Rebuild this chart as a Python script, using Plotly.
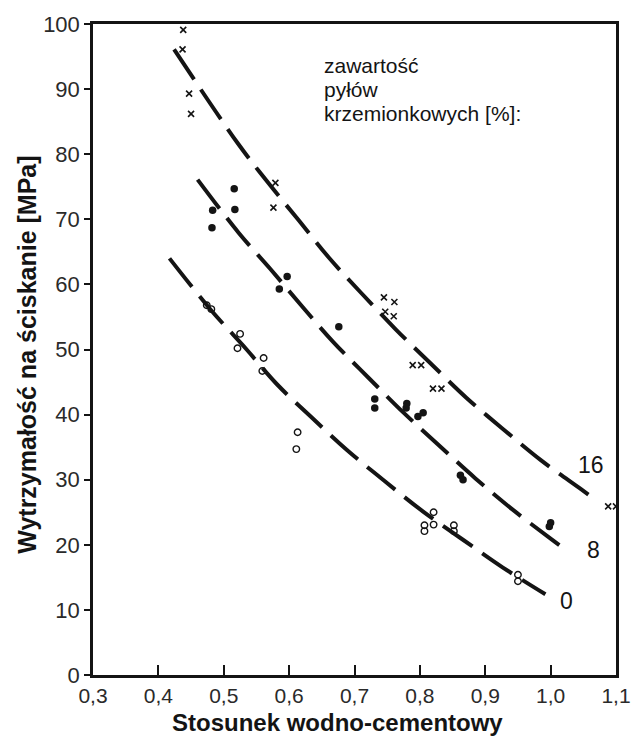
import plotly.graph_objects as go

# ---- data ----
x_ticks = [0.3, 0.4, 0.5, 0.6, 0.7, 0.8, 0.9, 1.0, 1.1]
x_tick_labels = ["0,3", "0,4", "0,5", "0,6", "0,7", "0,8", "0,9", "1,0", "1,1"]
y_ticks = [0, 10, 20, 30, 40, 50, 60, 70, 80, 90, 100]

# 16 % silica fume (x markers)
x16 = [0.438, 0.437, 0.447, 0.450, 0.579, 0.576, 0.745, 0.761, 0.747, 0.760,
       0.789, 0.802, 0.820, 0.833, 1.088, 1.100]
y16 = [99.1, 96.1, 89.3, 86.2, 75.6, 71.8, 58.0, 57.3, 55.8, 55.1,
       47.6, 47.6, 44.0, 44.0, 25.9, 25.9]

# 8 % silica fume (filled dots)
x8 = [0.483, 0.482, 0.516, 0.517, 0.585, 0.597, 0.676, 0.731, 0.731, 0.779,
      0.780, 0.797, 0.805, 0.862, 0.866, 0.998, 1.000]
y8 = [71.4, 68.7, 74.7, 71.5, 59.3, 61.2, 53.5, 42.4, 41.0, 41.0,
      41.7, 39.7, 40.3, 30.7, 30.0, 22.8, 23.4]

# 0 % silica fume (open circles)
x0 = [0.474, 0.481, 0.525, 0.521, 0.561, 0.559, 0.613, 0.611, 0.807, 0.807,
      0.821, 0.821, 0.852, 0.852, 0.950, 0.950]
y0 = [56.8, 56.2, 52.4, 50.2, 48.7, 46.7, 37.3, 34.7, 23.0, 22.1,
      25.0, 23.1, 23.0, 22.1, 15.4, 14.4]

# dashed trend curves
c16x = [0.424, 0.522, 0.568, 0.615, 0.661, 0.711, 0.763, 0.815, 0.871, 0.927, 0.985, 1.047, 1.070]
c16y = [96.1, 81.6, 75.6, 69.8, 64.1, 58.6, 53.1, 48.0, 42.6, 37.8, 33.0, 28.5, 26.8]
c8x = [0.460, 0.523, 0.571, 0.620, 0.668, 0.721, 0.775, 0.829, 0.885, 0.942, 1.002, 1.025]
c8y = [76.1, 67.9, 62.4, 56.6, 51.1, 45.7, 40.3, 35.3, 30.2, 25.4, 20.8, 19.1]
c0x = [0.417, 0.481, 0.535, 0.581, 0.633, 0.688, 0.746, 0.805, 0.867, 0.927, 0.992]
c0y = [64.0, 56.0, 50.0, 44.7, 39.7, 34.6, 29.8, 25.1, 20.7, 16.5, 12.4]

curve_labels = ["16", "8", "0"]
curve_label_x = [1.062, 1.065, 1.024]
curve_label_y = [32.2, 19.2, 11.4]

legend_lines = ["zawartość", "pyłów", "krzemionkowych [%]:"]
legend_x = 0.652
legend_y = [93.6, 89.95, 86.3]

FONT = "Liberation Sans, Arial, sans-serif"
INK = "#141414"

fig = go.Figure()

for cx, cy in [(c16x, c16y), (c8x, c8y), (c0x, c0y)]:
    fig.add_trace(go.Scatter(
        x=cx, y=cy, mode="lines",
        line=dict(color=INK, width=4, dash="36px,12px", shape="spline", smoothing=1.0),
        hoverinfo="skip", showlegend=False))

fig.add_trace(go.Scatter(
    x=x16, y=y16, mode="markers",
    marker=dict(symbol="x-thin", size=6, color=INK, line=dict(color=INK, width=1.6)),
    showlegend=False))
fig.add_trace(go.Scatter(
    x=x8, y=y8, mode="markers",
    marker=dict(symbol="circle", size=7.5, color=INK, line=dict(width=0)),
    showlegend=False))
fig.add_trace(go.Scatter(
    x=x0, y=y0, mode="markers",
    marker=dict(symbol="circle-open", size=6.5, color=INK, line=dict(color=INK, width=1.4)),
    showlegend=False))

for t, xx, yy in zip(curve_labels, curve_label_x, curve_label_y):
    fig.add_annotation(x=xx, y=yy, text=t, showarrow=False,
                       xanchor="center", yanchor="middle",
                       font=dict(family=FONT, size=23, color=INK))

for t, yy in zip(legend_lines, legend_y):
    fig.add_annotation(x=legend_x, y=yy, text=t, showarrow=False,
                       xanchor="left", yanchor="middle", borderpad=0,
                       font=dict(family=FONT, size=21, color=INK))

# axis titles
fig.add_annotation(xref="paper", yref="paper", x=0.468, y=-0.0735,
                   text="<b>Stosunek wodno-cementowy</b>", showarrow=False,
                   xanchor="center", yanchor="middle", borderpad=0,
                   font=dict(family=FONT, size=24, color=INK))
fig.add_annotation(xref="paper", yref="paper", x=-0.1265, y=0.4917,
                   text="<b>Wytrzymałość na ściskanie [MPa]</b>", showarrow=False,
                   textangle=-90, xanchor="center", yanchor="middle",
                   font=dict(family=FONT, size=25, color=INK))

fig.update_layout(
    width=643, height=737,
    margin=dict(l=93, r=16, t=16, b=62),
    paper_bgcolor="white", plot_bgcolor="white",
    showlegend=False,
    font=dict(family=FONT, color=INK),
)
fig.update_xaxes(
    range=[0.3, 1.1], tickvals=x_ticks, ticktext=x_tick_labels,
    ticks="inside", ticklen=10, tickwidth=1.5, tickcolor=INK,
    showline=True, linecolor=INK, linewidth=2.5, mirror=True,
    showgrid=False, zeroline=False,
    tickfont=dict(family=FONT, size=21, color="#2a2a2a"),
)
fig.update_yaxes(
    range=[0, 100], tickvals=y_ticks,
    ticks="outside", ticklen=6, tickwidth=1.5, tickcolor=INK,
    showline=True, linecolor=INK, linewidth=2.5, mirror=True,
    showgrid=False, zeroline=False,
    tickfont=dict(family=FONT, size=22, color="#2a2a2a"),
)

fig.write_html("out.html", config={"displayModeBar": False},
               post_script="document.body.style.margin='0';document.body.style.overflow='hidden';")
